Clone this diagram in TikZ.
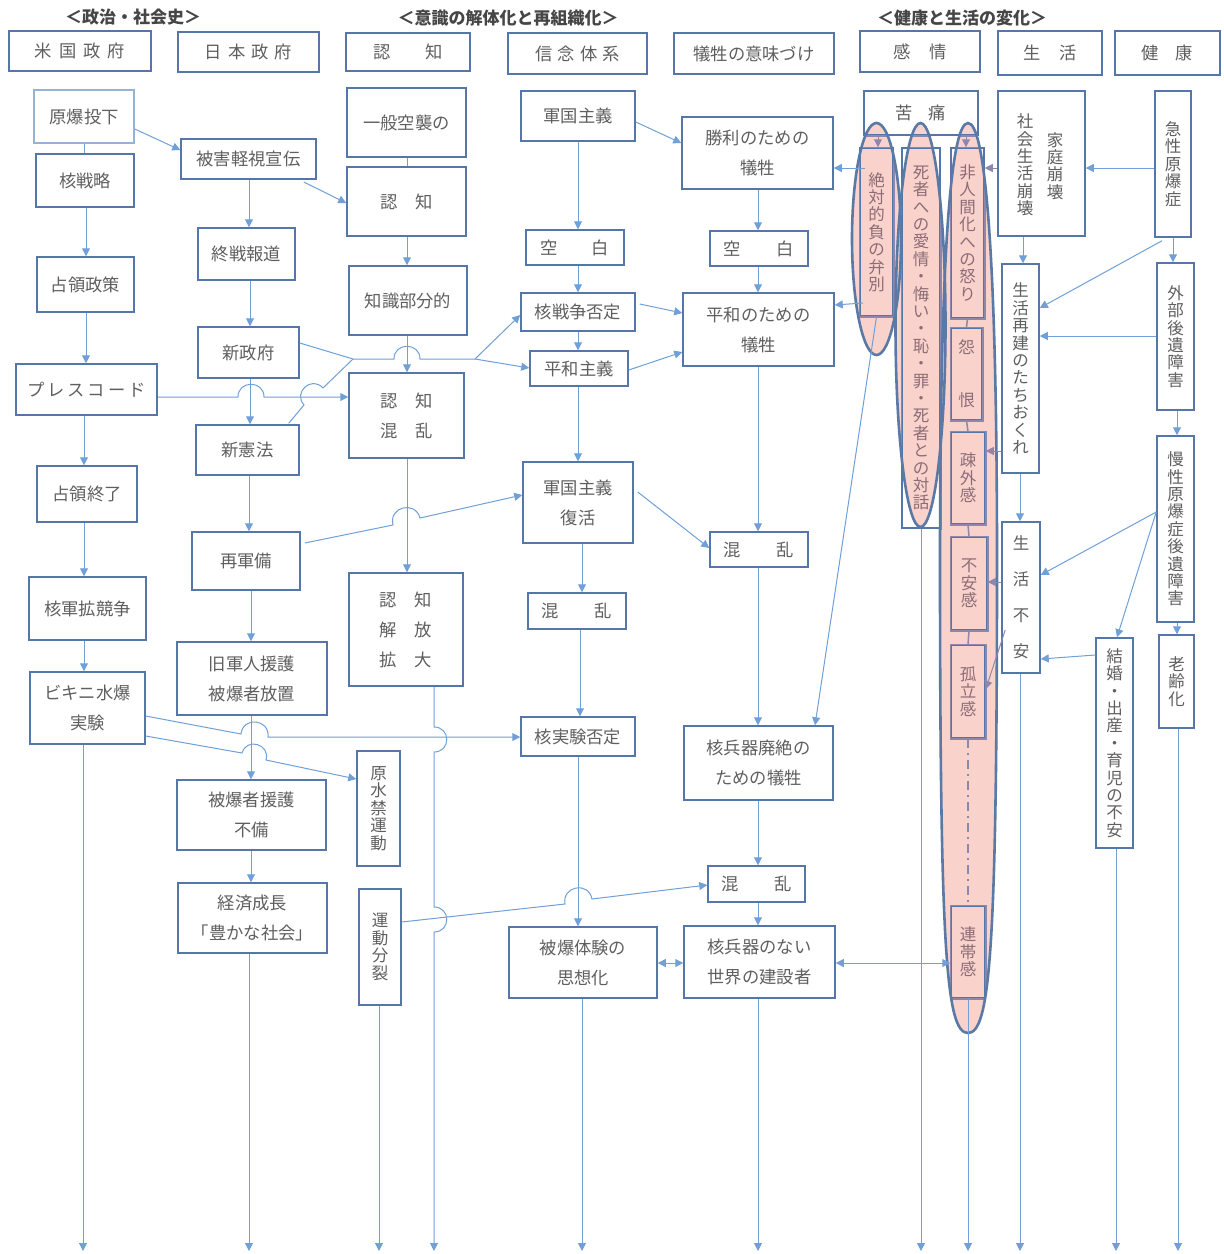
\documentclass[tikz,border=0pt]{standalone}
\usepackage{fontspec}
\setmainfont{Noto Sans CJK JP}
\usetikzlibrary{arrows.meta}
\definecolor{boxblue}{RGB}{84,118,168}
\definecolor{lightbox}{RGB}{150,178,215}
\definecolor{arrblue}{RGB}{112,160,215}
\definecolor{txtgray}{RGB}{95,95,95}
\definecolor{hdrgray}{RGB}{70,70,70}
\definecolor{pinkfill}{RGB}{249,210,204}
\definecolor{purp}{RGB}{140,135,172}
\definecolor{pinktxt}{RGB}{140,108,118}
\definecolor{ellblue}{RGB}{90,122,165}
\newcommand\hf{\fontsize{17.3}{30}\selectfont}
\newcommand\vf{\fontsize{16.5}{17.4}\selectfont}
\newcommand\bx[7][]{\node[box,minimum width={(#5-#3)*1pt},minimum height={(#6-#4)*1pt},#1] (#2) at ({(#3+#5)/2},{(#4+#6)/2}) {#7};}
\newcommand\ellA{(876.5,239) ellipse [x radius=24.5, y radius=116]}
\newcommand\ellB{(920.5,325) ellipse [x radius=25, y radius=202]}
\newcommand\ellC{(968,123) .. controls (985,123) and (997,250) .. (997,560) .. controls (997,950) and (990,1033) .. (968,1033) .. controls (946,1033) and (940,950) .. (940,560) .. controls (940,250) and (951,123) .. (968,123) -- cycle}
\tikzset{
  box/.style={draw=boxblue, line width=1.5pt, fill=white, inner sep=0pt, text=txtgray, font=\hf, align=center},
  vbox/.style={font=\vf},
  pbox/.style={fill=none, text=pinktxt},
  hdr/.style={font=\fontsize{17}{20}\selectfont\bfseries, text=hdrgray, inner sep=0pt},
  arr/.style={draw=arrblue, line width=1pt, -{Triangle[length=8pt,width=8pt]}},
  darr/.style={draw=arrblue, line width=1pt, {Triangle[length=8pt,width=8pt]}-{Triangle[length=8pt,width=8pt]}},
  ln/.style={draw=arrblue, line width=1pt},
  parr/.style={draw=purp, line width=1pt, -{Triangle[length=8pt,width=8pt]}},
  pln/.style={draw=purp, line width=1.5pt},
}
\begin{document}
\begin{tikzpicture}[x=1pt,y=-1pt]
\useasboundingbox (0,0) rectangle (1224,1254);
\fill[white] (0,0) rectangle (1224,1254);

% ---------- headers
\node[hdr] (h1) at (133,17) {＜政治・社会史＞};
\node[hdr] (h2) at (508,18) {＜意識の解体化と再組織化＞};
\node[hdr] (h3) at (962,18) {＜健康と生活の変化＞};

\bx{us}{9}{31}{151}{71}{米\hspace{7pt}国\hspace{7pt}政\hspace{7pt}府}
\bx{jpg}{178}{32}{319}{72}{日\hspace{6pt}本\hspace{6pt}政\hspace{6pt}府}
\bx{hnin}{346}{33}{470}{71}{認\hspace{35pt}知}
\bx{hshin}{508}{33}{647}{74}{信\hspace{5pt}念\hspace{5pt}体\hspace{5pt}系}
\bx{hgis}{674}{33}{834}{74}{犠牲の意味づけ}
\bx{hkan}{860}{31}{980}{72}{感\hspace{18pt}情}
\bx{hsei}{998}{31}{1102}{75}{生\hspace{18pt}活}
\bx{hken}{1115}{31}{1220}{75}{健\hspace{17pt}康}

% ---------- column 1
\bx[draw=lightbox]{genbaku}{34}{90}{134}{143}{原爆投下}
\bx{kaku}{36}{154}{134}{207}{核戦略}
\bx{senryo}{37}{257}{134}{312}{占領政策}
\bx{press}{16}{364}{157}{415}{プ\hspace{3pt}レ\hspace{3pt}ス\hspace{3pt}コ\hspace{3pt}ー\hspace{3pt}ド}
\bx{shuryo}{37}{466}{137}{522}{占領終了}
\bx{kakugun}{29}{577}{146}{640}{核軍拡競争}
\bx{bikini}{30}{672}{145}{744}{ビキニ水爆\\実験}

% ---------- column 2
\bx{higai}{181}{139}{316}{179}{被害軽視宣伝}
\bx{shusen}{198}{228}{295}{280}{終戦報道}
\bx{shinsei}{198}{327}{299}{378}{新政府}
\bx{kenpo}{196}{425}{299}{475}{新憲法}
\bx{saigun}{192}{532}{300}{590}{再軍備}
\bx{kyugun}{177}{642}{327}{715}{旧軍人援護\\被爆者放置}
\bx{engo}{177}{780}{326}{850}{被爆者援護\\不備}
\bx{keizai}{178}{883}{327}{953}{経済成長\\「豊かな社会」}

% ---------- column 3
\bx{ippan}{347}{88}{466}{157}{一般空襲の}
\bx{ninchi}{347}{167}{466}{236}{認\hspace{18pt}知}
\bx{chishiki}{349}{266}{467}{335}{知識部分的}
\bx{konranA}{349}{373}{464}{458}{認\hspace{18pt}知\\混\hspace{18pt}乱}
\bx{kaiho}{349}{573}{463}{686}{認\hspace{18pt}知\\解\hspace{18pt}放\\拡\hspace{18pt}大}
\bx[vbox]{gensui}{357}{751}{400}{866}{原\\水\\禁\\運\\動}
\bx[vbox]{bunretsu}{359}{889}{401}{1005}{運\\動\\分\\裂}

% ---------- column 4
\bx{gunkoku}{521}{91}{635}{141}{軍国主義}
\bx{kuhakuA}{526}{230}{624}{265}{空\hspace{34pt}白}
\bx{kakusen}{521}{293}{635}{331}{核戦争否定}
\bx{heiwa}{530}{351}{628}{386}{平和主義}
\bx{fukkatsu}{523}{462}{633}{543}{軍国主義\\復活}
\bx{konranB}{528}{593}{626}{629}{混\hspace{36pt}乱}
\bx{kakujikken}{521}{717}{635}{756}{核実験否定}
\bx{shiso}{509}{927}{657}{998}{被爆体験の\\思想化}

% ---------- column 5
\bx{shori}{682}{117}{833}{189}{勝利のための\\犠牲}
\bx{kuhakuB}{710}{231}{808}{266}{空\hspace{36pt}白}
\bx{heiwagisei}{683}{293}{834}{366}{平和のための\\犠牲}
\bx{konranC}{710}{532}{808}{567}{混\hspace{36pt}乱}
\bx{haizetsu}{684}{726}{833}{800}{核兵器廃絶の\\ための犠牲}
\bx{konranD}{708}{866}{805}{902}{混\hspace{36pt}乱}
\bx{kensetsu}{684}{926}{835}{998}{核兵器のない\\世界の建設者}

% ---------- column 7-9
\bx{hokai}{998}{91}{1085}{236}{}
\node[vbox, text=txtgray, inner sep=0pt, align=center] (hokaiA) at (1025,165) {社\\会\\生\\活\\崩\\壊};
\node[vbox, text=txtgray, inner sep=0pt, align=center] (hokaiB) at (1055,166) {家\\庭\\崩\\壊};
\bx[vbox]{saiken}{1002}{264}{1039}{473}{生\\活\\再\\建\\の\\た\\ち\\お\\く\\れ}
\bx[font=\fontsize{16.5}{36}\selectfont]{seifuan}{1002}{522}{1040}{673}{生\\活\\不\\安}
\bx[vbox]{kekkon}{1096}{638}{1133}{848}{結\\婚\\・\\出\\産\\・\\育\\児\\の\\不\\安}
\bx[vbox]{kyusei}{1155}{91}{1191}{237}{急\\性\\原\\爆\\症}
\bx[vbox]{gaibu}{1157}{263}{1194}{410}{外\\部\\後\\遺\\障\\害}
\bx[vbox]{mansei}{1157}{436}{1194}{622}{慢\\性\\原\\爆\\症\\後\\遺\\障\\害}
\bx[vbox]{roreika}{1159}{635}{1194}{728}{老\\齢\\化}

% ---------- column 6 (emotions) with ellipses
\fill[pinkfill] \ellA;
\fill[pinkfill] \ellB;
\fill[pinkfill] \ellC;
\bx[fill=none]{kutsu}{864}{91}{978}{135}{苦\hspace{16pt}痛}
\bx[vbox,pbox]{zettai}{860}{148}{893}{316}{絶\\対\\的\\負\\の\\弁\\別}
\bx[vbox,pbox]{shisha}{902}{148}{940}{528}{死\\者\\へ\\の\\愛\\情\\・\\悔\\い\\・\\恥\\・\\罪\\・\\死\\者\\と\\の\\対\\話}
\bx[vbox,pbox]{hiningen}{951}{148}{984}{318}{非\\人\\間\\化\\へ\\の\\怒\\り}
\bx[vbox,pbox]{enkon}{951}{328}{982}{420}{怨\\[35.6pt]恨}
\bx[vbox,pbox]{sogai}{951}{432}{985}{524}{疎\\外\\感}
\bx[vbox,pbox]{fuan}{951}{537}{987}{630}{不\\安\\感}
\bx[vbox,pbox]{koritsu}{951}{645}{985}{738}{孤\\立\\感}
\bx[vbox,pbox]{rentai}{951}{906}{985}{998}{連\\帯\\感}
\begin{scope}
  \clip \ellA \ellB \ellC;
  \foreach \n in {kutsu,zettai,shisha,hiningen,enkon,sogai,fuan,koritsu,rentai}
    \draw[purp, line width=1.5pt] (\n.north west) rectangle (\n.south east);
\end{scope}
\draw[ellblue, line width=2.6pt] \ellA;
\draw[ellblue, line width=2.6pt] \ellB;
\draw[ellblue, line width=2.6pt] \ellC;
\draw[pln] (hiningen.south) -- (enkon.north);
\draw[pln] (enkon.south) -- (sogai.north);
\draw[pln] (sogai.south) -- (fuan.north);
\draw[pln] (fuan.south) -- (koritsu.north);
\draw[pln, dash pattern=on 9pt off 5pt on 2pt off 5pt] (koritsu.south) -- (rentai.north);
\draw[parr] (kutsu.south -| 878,0) -- (zettai.north -| 878,0);
\draw[parr] (kutsu.south -| 966,0) -- (hiningen.north -| 966,0);

% ---------- bottom ends
\coordinate (e1) at (83,1251);
\coordinate (e2) at (249,1251);
\coordinate (e3) at (379,1251);
\coordinate (e4) at (434,1251);
\coordinate (e5) at (582,1251);
\coordinate (e6) at (758,1251);
\coordinate (e7) at (921,1251);
\coordinate (e8) at (968,1251);
\coordinate (e9) at (1020,1251);
\coordinate (e10) at (1116,1251);
\coordinate (e11) at (1178,1251);
\coordinate (mg) at (353,359);
\coordinate (br) at (475,359);

% ---------- column 1 connectors
\draw[ln] (genbaku.south) -- (genbaku.south |- kaku.north);
\draw[arr] (kaku.south -| 86,0) -- (senryo.north -| 86,0);
\draw[arr] (senryo.south -| 86,0) -- (press.north -| 86,0);
\draw[arr] (press.south -| 84,0) -- (shuryo.north -| 84,0);
\draw[arr] (shuryo.south -| 84,0) -- (kakugun.north -| 84,0);
\draw[arr] (kakugun.south -| 84,0) -- (bikini.north -| 84,0);
\draw[arr] (bikini.south -| e1) -- (e1);

% ---------- column 2 connectors
\draw[arr] (genbaku.east |- 0,129) -- (higai.west |- 0,150);
\draw[arr] (higai.south -| 249,0) -- (shusen.north -| 249,0);
\draw[arr] (shusen.south -| 250,0) -- (shinsei.north -| 250,0);
\draw[arr] (shinsei.south -| 250,0) -- (kenpo.north -| 250,0);
\draw[arr] (kenpo.south -| 249,0) -- (saigun.north -| 249,0);
\draw[arr] (saigun.south -| 251,0) -- (kyugun.north -| 251,0);
\draw[arr] (kyugun.south -| 251,0) -- (engo.north -| 251,0);
\draw[arr] (engo.south -| 251,0) -- (keizai.north -| 251,0);
\draw[arr] (keizai.south -| e2) -- (e2);

% ---------- column 3 connectors
\draw[ln] (ippan.south -| 407,0) -- (ninchi.north -| 407,0);
\draw[arr] (higai.south east |- 0,182) ++(-13,0) -- (ninchi.west |- 0,203);
\draw[arr] (ninchi.south -| 407,0) -- (chishiki.north -| 407,0);
\draw[arr] (chishiki.south -| 407,0) -- (konranA.north -| 407,0);
\draw[arr] (konranA.south -| 407,0) -- (kaiho.north -| 407,0);
\draw[arr] (kaiho.south -| e4) -- (434,727) .. controls (451,727) and (451,752) .. (434,752)
   -- (434,907) .. controls (451,907) and (451,932) .. (434,932) -- (e4);
\draw[arr] (bunretsu.south -| e3) -- (e3);

% press code -> cognition confusion (jump)
\draw[arr] (press.east |- 0,397) -- (238,397) .. controls (238,380) and (264,380) .. (264,397) -- (konranA.west |- 0,397);
% new government / constitution -> branch
\draw[ln] (shinsei.east |- 0,343) -- (mg) -- (394,359) .. controls (394,342) and (420,342) .. (420,359) -- (br);
\draw[ln] (kenpo.north east) ++(-11,-1) -- (304,405) .. controls (292.7,392.3) and (311.7,375.3) .. (323,388) -- (mg);
\draw[arr] (br) -- (kakusen.west |- 0,315);
\draw[arr] (br) -- (heiwa.west |- 0,368);
% rearmament -> militarism revival
\draw[arr] (saigun.east |- 0,543) ++(4,0) -- (393,525) .. controls (388.3,507) and (415.3,500) .. (420,518) -- (fukkatsu.west |- 0,495);
% bikini lines
\draw[arr] (bikini.east |- 0,716) -- (241,734) .. controls (243,716) and (270,719) .. (268,737) -- (kakujikken.west |- 0,737);
\draw[arr] (bikini.east |- 0,736) -- (242,753) .. controls (246.6,737.1) and (270.6,744.1) .. (266,760) -- (gensui.west |- 0,779);
% movement split
\draw[arr] (bunretsu.east |- 0,922) -- (565,904) .. controls (561.7,886) and (588.7,881) .. (592,899) -- (konranD.west |- 0,885);

% ---------- column 4 connectors
\draw[arr] (gunkoku.south -| 578,0) -- (kuhakuA.north -| 578,0);
\draw[arr] (kuhakuA.south -| 578,0) -- (kakusen.north -| 578,0);
\draw[arr] (kakusen.south -| 578,0) -- (heiwa.north -| 578,0);
\draw[arr] (heiwa.south -| 578,0) -- (fukkatsu.north -| 578,0);
\draw[arr] (fukkatsu.south -| 582,0) -- (konranB.north -| 582,0);
\draw[arr] (konranB.south -| 580,0) -- (kakujikken.north -| 580,0);
\draw[arr] (kakujikken.south -| 578,0) -- (shiso.north -| 578,0);
\draw[arr] (shiso.south -| e5) -- (e5);
\draw[arr] (gunkoku.east |- 0,122) -- (shori.west |- 0,143);
\draw[arr] (kakusen.east |- 0,304) ++(4,0) -- (heiwagisei.west |- 0,313);
\draw[arr] (heiwa.east |- 0,370) -- (heiwagisei.west |- 0,352);
\draw[arr] (fukkatsu.east |- 0,492) ++(4,0) -- (konranC.west |- 0,548);
\draw[darr] (shiso.east |- 0,963) -- (kensetsu.west |- 0,963);

% ---------- column 5 connectors
\draw[arr] (shori.south -| 758,0) -- (kuhakuB.north -| 758,0);
\draw[arr] (kuhakuB.south -| 758,0) -- (heiwagisei.north -| 758,0);
\draw[arr] (heiwagisei.south -| 758,0) -- (konranC.north -| 758,0);
\draw[arr] (konranC.south -| 758,0) -- (haizetsu.north -| 758,0);
\draw[arr] (haizetsu.south -| 758,0) -- (konranD.north -| 758,0);
\draw[arr] (konranD.south -| 758,0) -- (kensetsu.north -| 758,0);
\draw[arr] (kensetsu.south -| e6) -- (e6);
\draw[darr] (kensetsu.east |- 0,963) -- (rentai.west |- 0,963);

% ---------- column 6 connectors
\draw[arr] (865,168) -- (shori.east |- 0,168);
\draw[arr] (863,303) -- (heiwagisei.east |- 0,305);
\draw[arr] (zettai.south) -- (haizetsu.north -| 815,0);
\draw[arr] (shisha.south -| e7) -- (e7);
\draw[arr] (rentai.south -| e8) -- (e8);

% ---------- life / health connectors
\draw[parr] (hokai.west |- 0,168) -- (hiningen.east |- 0,168);
\draw[arr] (kyusei.west |- 0,168) -- (hokai.east |- 0,168);
\draw[arr] (hokai.south -| 1023,0) -- (saiken.north -| 1023,0);
\draw[arr] (kyusei.south -| 1162,0) ++(0,3) -- (saiken.east |- 0,308);
\draw[arr] (gaibu.west |- 0,336) -- (saiken.east |- 0,336);
\draw[parr] (saiken.west |- 0,451) -- (sogai.east |- 0,451);
\draw[arr] (saiken.south -| 1020,0) -- (seifuan.north -| 1020,0);
\draw[parr] (seifuan.west |- 0,582) -- (fuan.east |- 0,582);
\draw[parr] (seifuan.west |- 0,630) ++(4,0) -- (koritsu.east |- 0,689);
\draw[arr] (mansei.west |- 0,512) -- (seifuan.east |- 0,575);
\draw[arr] (mansei.west |- 0,512) -- (kekkon.north -| 1117,0);
\draw[arr] (kekkon.west |- 0,655) -- (seifuan.east |- 0,659);
\draw[arr] (seifuan.south -| e9) -- (e9);
\draw[arr] (kekkon.south -| e10) -- (e10);
\draw[arr] (kyusei.south -| 1173,0) -- (gaibu.north -| 1173,0);
\draw[arr] (gaibu.south -| 1177,0) -- (mansei.north -| 1177,0);
\draw[arr] (mansei.south -| 1177,0) -- (roreika.north -| 1177,0);
\draw[arr] (roreika.south -| e11) -- (e11);
\end{tikzpicture}
\end{document}
